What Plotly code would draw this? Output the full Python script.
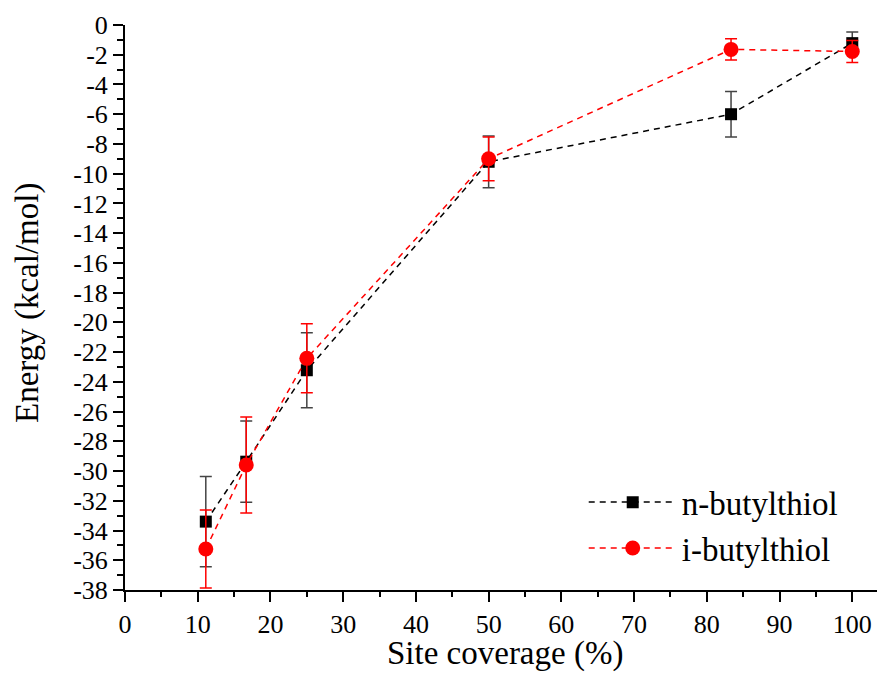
import plotly.graph_objects as go

coverage = [11.11, 16.67, 25.0, 50.0, 83.33, 100.0]
n_butyl = [-33.40, -29.37, -23.22, -9.20, -6.00, -1.22]
n_butyl_err = [3.03, 2.73, 2.53, 1.74, 1.53, 0.75]
i_butyl = [-35.24, -29.59, -22.42, -9.00, -1.64, -1.78]
i_butyl_err = [2.62, 3.23, 2.32, 1.47, 0.71, 0.74]

y_tick_vals = list(range(0, -39, -2))
y_tick_text = [str(v) for v in y_tick_vals]  # hyphen-minus as in reference
x_title = "Site coverage (%)"
y_title = "Energy (kcal/mol)"

FONT = "Times New Roman"

fig = go.Figure()
fig.add_trace(go.Scatter(
    x=coverage, y=n_butyl, name="n-butylthiol", mode="lines+markers",
    line=dict(color="black", width=1.5, dash="6px,5px"),
    marker=dict(symbol="square", size=12, color="black"),
    error_y=dict(type="data", array=n_butyl_err, visible=True,
                 color="#444444", thickness=1.5, width=6),
))
fig.add_trace(go.Scatter(
    x=coverage, y=i_butyl, name="i-butylthiol", mode="lines+markers",
    line=dict(color="#ff0000", width=1.5, dash="6px,5px"),
    marker=dict(symbol="circle", size=15, color="#ff0000"),
    error_y=dict(type="data", array=i_butyl_err, visible=True,
                 color="#ff0000", thickness=1.5, width=6),
))

fig.update_layout(
    width=879, height=677,
    margin=dict(l=125, r=2, t=25, b=87),
    plot_bgcolor="white", paper_bgcolor="white",
    font=dict(family=FONT, size=26, color="black"),
    showlegend=True,
    legend=dict(x=0.61, y=0.205, xanchor="left", yanchor="top",
                font=dict(size=33),
                bgcolor="rgba(0,0,0,0)", itemwidth=88, tracegroupgap=0),
)
fig.update_xaxes(
    range=[0, 103.4], tickmode="linear", tick0=0, dtick=10,
    ticks="outside", ticklen=10, tickwidth=2, tickcolor="black",
    showline=True, linecolor="black", linewidth=2, showgrid=False, zeroline=False,
    minor=dict(ticks="outside", ticklen=5, tickwidth=2, tickcolor="black", dtick=5, showgrid=False),
)
fig.update_yaxes(
    range=[-38, 0], tickmode="array", tickvals=y_tick_vals, ticktext=y_tick_text,
    ticks="outside", ticklen=10, tickwidth=2, tickcolor="black",
    showline=True, linecolor="black", linewidth=2, showgrid=False, zeroline=False,
    minor=dict(ticks="outside", ticklen=6, tickwidth=2, tickcolor="black", dtick=1, showgrid=False),
)
fig.add_annotation(x=0.505, y=-0.112, xref="paper", yref="paper", text=x_title, showarrow=False,
                   xanchor="center", yanchor="middle", font=dict(family=FONT, size=33, color="black"))
fig.add_annotation(x=-0.129, y=0.508, xref="paper", yref="paper", text=y_title, showarrow=False,
                   textangle=-90, xanchor="center", yanchor="middle",
                   font=dict(family=FONT, size=33, color="black"))

fig.write_html("out.html")
